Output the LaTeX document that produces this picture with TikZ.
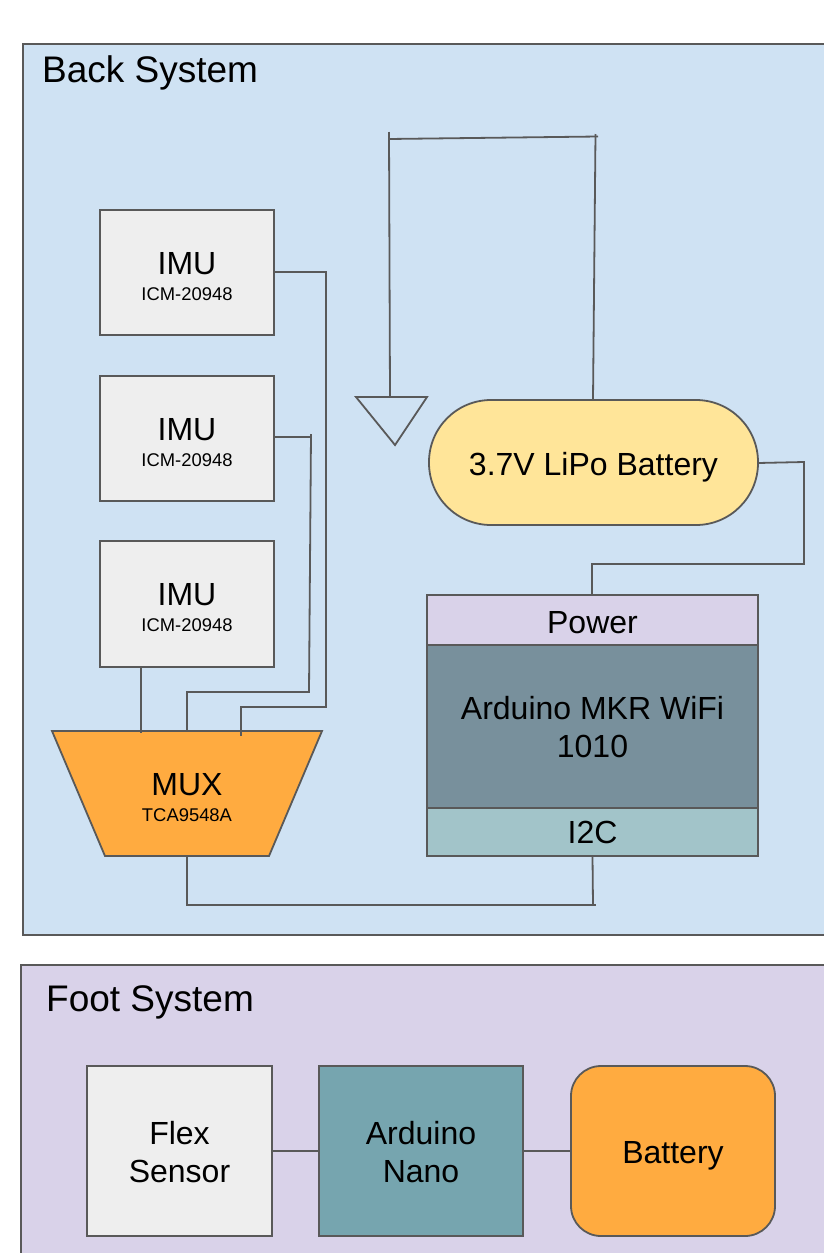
\documentclass[tikz,border=0pt]{standalone}
\usepackage{fontspec}
\setmainfont{Liberation Sans}
\newcommand{\bigtxt}{\fontsize{32}{38}\selectfont}
\newcommand{\smalltxt}{\fontsize{18.4}{26}\selectfont}
\newcommand{\ttl}{\fontsize{37}{44}\selectfont}
\newcommand{\chip}[2]{{\fontsize{32}{27}\selectfont\rule{0pt}{30pt}#1}\\#2}
\newcommand{\lift}{\rule{0pt}{25pt}}
\definecolor{wire}{HTML}{595959}
\definecolor{backbg}{HTML}{CFE2F3}
\definecolor{footbg}{HTML}{D9D2E9}
\definecolor{lightgrey}{HTML}{EEEEEE}
\definecolor{muxorange}{HTML}{FFAB40}
\definecolor{lipo}{HTML}{FFE599}
\definecolor{mkr}{HTML}{78909C}
\definecolor{itwoc}{HTML}{A2C4C9}
\definecolor{nano}{HTML}{76A5AF}
\tikzset{
  hwbox/.style={draw=wire,line width=1.8pt,rectangle,inner sep=0pt,outer sep=0pt,anchor=north west,align=center,font=\bigtxt},
  chipbox/.style={hwbox,font=\smalltxt,fill=lightgrey,minimum width=174pt},
  panel/.style={hwbox,minimum width=900pt},
  title/.style={inner sep=0pt,anchor=base west,font=\ttl},
  wireline/.style={draw=wire,line width=1.8pt,line join=miter},
}
\begin{document}
\begin{tikzpicture}[x=1pt,y=-1pt]
\useasboundingbox (0,0) rectangle (824,1253);
\clip (0,0) rectangle (824,1253);
\fill[white] (0,0) rectangle (824,1253);
% panels
\node[panel,fill=backbg,minimum height=891pt] (back) at (23,44) {};
\node[panel,fill=footbg,minimum height=400pt] (foot) at (21,965) {};
\node[title] (backt) at (42,82) {Back System};
\node[title] (foott) at (46,1011) {Foot System};
% IMUs
\node[chipbox,minimum height=125pt] (imua) at (100,210) {\chip{IMU}{ICM-20948}};
\node[chipbox,minimum height=125pt] (imub) at (100,376) {\chip{IMU}{ICM-20948}};
\node[chipbox,minimum height=126pt] (imuc) at (100,541) {\chip{IMU}{ICM-20948}};
% MUX
\coordinate (mnw) at (52,731);
\coordinate (mne) at (322,731);
\coordinate (mse) at (269,856);
\coordinate (msw) at (105,856);
\draw[wireline,fill=muxorange] (mnw) -- (mne) -- (mse) -- (msw) -- cycle;
\node[align=center,inner sep=0pt,font=\smalltxt] (mux) at (187,794) {\chip{MUX}{TCA9548A}};
% battery
\node[hwbox,fill=lipo,minimum width=329pt,minimum height=125pt,rounded corners=62pt,text depth=0pt,text height=25pt] (lipob) at (429,400) {3.7V LiPo Battery};
% Arduino MKR
\node[hwbox,fill=footbg,minimum width=331pt,minimum height=50pt,text height=27pt] (power) at (427,595) {Power};
\node[hwbox,fill=mkr,minimum width=331pt,minimum height=163pt] (ard) at (427,645) {\lift Arduino MKR WiFi\\1010};
\node[hwbox,fill=itwoc,minimum width=331pt,minimum height=48pt] (i2c) at (427,808) {I2C};
% ground
\coordinate (gw) at (356,397);
\coordinate (ge) at (427,397);
\coordinate (gs) at (395,445);
\draw[wireline] (gw) -- (ge) -- (gs) -- cycle;
% foot blocks
\node[hwbox,fill=lightgrey,minimum width=185pt,minimum height=170pt] (flex) at (87,1066) {\lift Flex\\Sensor};
\node[hwbox,fill=nano,minimum width=204pt,minimum height=170pt] (ano) at (319,1066) {\lift Arduino\\Nano};
\node[hwbox,fill=muxorange,minimum width=204pt,minimum height=170pt,rounded corners=30pt,text depth=0pt,text height=25pt] (fbat) at (571,1066) {Battery};
% wires
\coordinate (a1) at (326,272);
\coordinate (a2) at (326,707);
\coordinate (a3) at (241,707);
\coordinate (a4) at (241,736);
\draw[wireline] (imua.east |- a1) -- (a1) -- (a2) -- (a3) -- (a4);
\coordinate (b1) at (311,437);
\coordinate (b0) at (311,434);
\coordinate (b2) at (309,692);
\coordinate (b3) at (187,692);
\coordinate (b4) at (187,731);
\draw[wireline] (imub.east |- b1) -- (b1);
\draw[wireline] (b0) -- (b2) -- (b3) -- (b4);
\coordinate (c1) at (141,733);
\draw[wireline] (imuc.south -| c1) -- (c1);
\coordinate (d1) at (187,905);
\coordinate (d2) at (596,905);
\draw[wireline] (msw -| d1) -- (d1) -- (d2);
\coordinate (d3) at (593,905);
\coordinate (d4) at (592.5,856);
\draw[wireline] (d4) -- (d3);
\coordinate (e0) at (758,463);
\coordinate (e1) at (804,462);
\coordinate (e2) at (804,564);
\coordinate (e3) at (592,564);
\draw[wireline] (e0) -- (e1) -- (e2) -- (e3) -- (e3 |- power.north);
\coordinate (f0) at (593,400);
\coordinate (f1) at (595.5,134);
\draw[wireline] (f0) -- (f1);
\coordinate (g1) at (389,132);
\coordinate (g2) at (390,397);
\draw[wireline] (g1) -- (g2);
\coordinate (h1) at (388.5,139);
\coordinate (h2) at (598,136.5);
\draw[wireline] (h1) -- (h2);
\draw[wireline] (flex.east) -- (ano.west);
\draw[wireline] (ano.east) -- (fbat.west);
\end{tikzpicture}
\end{document}
